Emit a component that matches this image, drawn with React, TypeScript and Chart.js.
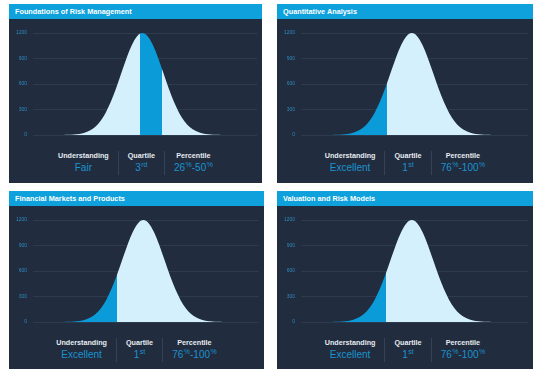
import React, { useEffect, useRef } from "react";
import { Chart, registerables } from "chart.js";

Chart.register(...registerables);

// ---- data ----
const titles = [
  "Foundations of Risk Management",
  "Quantitative Analysis",
  "Financial Markets and Products",
  "Valuation and Risk Models",
];
const curveX = [
  -4, -3.75, -3.5, -3.25, -3, -2.75, -2.5, -2.25, -2, -1.75, -1.5, -1.25, -1, -0.75, -0.5, -0.25,
  0, 0.25, 0.5, 0.75, 1, 1.25, 1.5, 1.75, 2, 2.25, 2.5, 2.75, 3, 3.25, 3.5, 3.75, 4,
];
const curveY = [
  0, 1, 3, 6, 13, 27, 53, 95, 162, 260, 390, 549, 728, 906, 1059, 1163,
  1200, 1163, 1059, 906, 728, 549, 390, 260, 162, 95, 53, 27, 13, 6, 3, 1, 0,
];
const yTicks = [0, 300, 600, 900, 1200];
const xMin = -5.2;
const xMax = 5.45;
const bandFrom = [-0.1, -5.2, -5.2, -5.2];
const bandTo = [0.92, -1.16, -1.22, -1.19];
const understanding = ["Fair", "Excellent", "Excellent", "Excellent"];
const quartileNum = ["3", "1", "1", "1"];
const quartileSuffix = ["rd", "st", "st", "st"];
const percentileLow = ["26", "76", "76", "76"];
const percentileHigh = ["50", "100", "100", "100"];

// ---- styles ----
const LIGHT = "#d3f0fc";
const BLUE = "#0b9bd8";
const HEADER = "#0ea1db";
const BODY = "#212c3e";
const GRID = "#2e3a4e";
const TICK = "#2f8ac0";
const VALUE = "#1b93cf";
const FONT = "'Liberation Sans', Arial, sans-serif";

const panels = [
  { left: 9, top: 4, w: 253, h: 179 },
  { left: 277, top: 4, w: 256, h: 179 },
  { left: 9, top: 191, w: 255, h: 178 },
  { left: 277, top: 191, w: 256, h: 178 },
];

function BellChart({ idx, width }: { idx: number; width: number }) {
  const ref = useRef<HTMLCanvasElement | null>(null);
  useEffect(() => {
    if (!ref.current) return;
    const from = bandFrom[idx];
    const to = bandTo[idx];
    const chart = new Chart(ref.current, {
      type: "line",
      data: {
        datasets: [
          {
            data: curveX.map((x, i) => ({ x, y: curveY[i] })),
            borderWidth: 0,
            pointRadius: 0,
            fill: "origin",
            cubicInterpolationMode: "monotone",
            backgroundColor: (c: any) => {
              const ch = c.chart;
              const area = ch.chartArea;
              if (!area || !ch.scales.x) return LIGHT;
              const sx = ch.scales.x;
              const w = area.right - area.left;
              const f = (p: number) => Math.min(1, Math.max(0, (p - area.left) / w));
              const a = f(sx.getPixelForValue(from));
              const b = f(sx.getPixelForValue(to));
              const g = ch.ctx.createLinearGradient(area.left, 0, area.right, 0);
              g.addColorStop(0, a <= 0 ? BLUE : LIGHT);
              g.addColorStop(a, a <= 0 ? BLUE : LIGHT);
              g.addColorStop(a, BLUE);
              g.addColorStop(b, BLUE);
              g.addColorStop(b, LIGHT);
              g.addColorStop(1, LIGHT);
              return g;
            },
          } as any,
        ],
      },
      options: {
        animation: false,
        responsive: false,
        maintainAspectRatio: false,
        layout: { padding: { top: 8, bottom: 8, left: 0, right: 5 } },
        plugins: { legend: { display: false }, tooltip: { enabled: false } },
        scales: {
          x: { type: "linear", min: xMin, max: xMax, display: false },
          y: {
            min: 0,
            max: 1200,
            afterBuildTicks: (s: any) => {
              s.ticks = yTicks.map((v) => ({ value: v }));
            },
            afterFit: (s: any) => {
              s.width = 24;
            },
            border: { display: false },
            grid: { color: GRID, drawTicks: false, lineWidth: 1 },
            ticks: {
              color: TICK,
              font: { size: 5, family: FONT },
              padding: 6,
              callback: (v: any) => String(v),
            },
          },
        },
      },
    });
    return () => chart.destroy();
  }, [idx]);
  return <canvas ref={ref} width={width} height={120} style={{ width, height: 120, display: "block" }} />;
}

const supStyle: React.CSSProperties = {
  fontSize: 7,
  position: "relative",
  top: -4,
  marginLeft: 0.5,
};

function Panel({ idx }: { idx: number }) {
  const p = panels[idx];
  const col = (first: boolean): React.CSSProperties => ({
    padding: "0 9px",
    textAlign: "center",
    borderLeft: first ? "none" : "1px solid #354259",
    height: 24,
  });
  const label: React.CSSProperties = {
    fontSize: 7.2,
    fontWeight: "bold",
    color: "#e6ebf1",
    lineHeight: "10px",
    whiteSpace: "nowrap",
  };
  const val: React.CSSProperties = {
    fontSize: 10,
    color: VALUE,
    lineHeight: "14px",
    whiteSpace: "nowrap",
  };
  return (
    <div
      style={{
        position: "absolute",
        left: p.left,
        top: p.top,
        width: p.w,
        height: p.h,
        background: BODY,
        overflow: "hidden",
      }}
    >
      <div
        style={{
          height: 15,
          lineHeight: "15px",
          background: HEADER,
          color: "#ffffff",
          fontSize: 7.3,
          fontWeight: "bold",
          paddingLeft: 6,
          whiteSpace: "nowrap",
        }}
      >
        {titles[idx]}
      </div>
      <div style={{ position: "absolute", left: 0, top: 20 }}>
        <BellChart idx={idx} width={p.w} />
      </div>
      <div
        style={{
          position: "absolute",
          left: 0,
          top: 147,
          width: p.w,
          display: "flex",
          justifyContent: "center",
        }}
      >
        <div style={col(true)}>
          <div style={label}>Understanding</div>
          <div style={val}>{understanding[idx]}</div>
        </div>
        <div style={col(false)}>
          <div style={label}>Quartile</div>
          <div style={val}>
            {quartileNum[idx]}
            <span style={supStyle}>{quartileSuffix[idx]}</span>
          </div>
        </div>
        <div style={col(false)}>
          <div style={label}>Percentile</div>
          <div style={val}>
            {percentileLow[idx]}
            <span style={supStyle}>%</span>-{percentileHigh[idx]}
            <span style={supStyle}>%</span>
          </div>
        </div>
      </div>
    </div>
  );
}

export default function App() {
  return (
    <div
      style={{
        position: "absolute",
        left: 0,
        top: 0,
        width: 540,
        height: 373,
        background: "#ffffff",
        fontFamily: FONT,
        overflow: "hidden",
      }}
    >
      {panels.map((_, i) => (
        <Panel key={i} idx={i} />
      ))}
    </div>
  );
}
